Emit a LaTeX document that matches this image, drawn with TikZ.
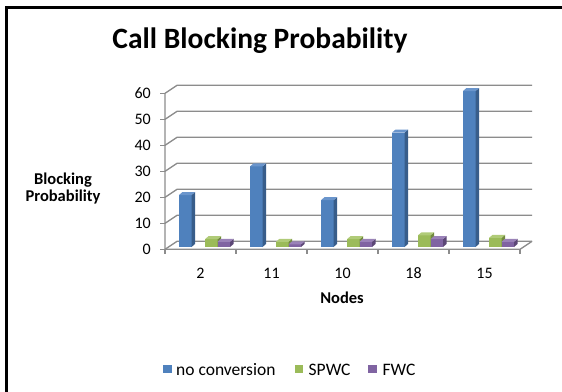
\documentclass[tikz,border=0pt]{standalone}
\usepackage{fontspec}
\setmainfont{Carlito}
\definecolor{sAfront}{HTML}{4F81BD}
\definecolor{sAside}{HTML}{385D8A}
\definecolor{sAtop}{HTML}{6A95CC}
\definecolor{sBfront}{HTML}{9BBB59}
\definecolor{sBside}{HTML}{71893F}
\definecolor{sBtop}{HTML}{B0CB78}
\definecolor{sCfront}{HTML}{8064A2}
\definecolor{sCside}{HTML}{5C4776}
\definecolor{sCtop}{HTML}{9A82B8}
\definecolor{gridgray}{HTML}{8C8C8C}
\newcommand{\mybar}[3]{%
  \pgfmathsetmacro{\barx}{#1}%
  \pgfmathsetmacro{\bartop}{247-2.6*#2}%
  \fill[#3front] (\barx,247) rectangle (\barx+12.5,\bartop);
  \fill[#3side] (\barx+12.5,247) -- (\barx+16,244) -- (\barx+16,\bartop-3) -- (\barx+12.5,\bartop) -- cycle;
  \fill[#3top] (\barx,\bartop) -- (\barx+3.5,\bartop-3) -- (\barx+16,\bartop-3) -- (\barx+12.5,\bartop) -- cycle;
}
\begin{document}
\begin{tikzpicture}[x=1pt,y=-1pt,
  grid/.style={gridgray,line width=1.3pt},
  ticklabel/.style={font=\fontsize{16}{18}\selectfont,inner sep=0pt},
  axistitle/.style={font=\bfseries\fontsize{16.5}{19}\selectfont,align=center,inner sep=0pt},
  legendtext/.style={font=\fontsize{17.5}{19}\selectfont,anchor=west,inner sep=0pt}]
\useasboundingbox (0,0) rectangle (562,391);
\fill[white] (0,0) rectangle (562,391);
% frame
\draw[line width=2.8pt] (6.5,420) -- (6.5,7.5) -- (600,7.5);
% title
\node[font=\bfseries\fontsize{29.5}{33}\selectfont,inner sep=0pt] (title) at (260,41) {Call Blocking Probability};
% gridlines and back wall
\foreach \v in {0,10,...,60} {
  \pgfmathsetmacro{\yy}{249.3-2.6*\v}
  \draw[grid] (165,\yy) -- (177,\yy-8) -- (532,\yy-8);
  \draw[grid] (160,\yy) -- (165,\yy);
  \node[ticklabel,anchor=east] at (151,\yy) {\v};
}
% front axis and floor
\draw[grid] (165,93.3) -- (165,249.3) -- (520,249.3) -- (532,241.3);
\foreach \k in {0,...,5} {
  \draw[grid] (165+71*\k,249.3) -- (165+71*\k,254);
}
% bars
\foreach \k/\va/\vb/\vc in {0/20/3/2, 1/31/2/1, 2/18/3/2, 3/44/4.5/3, 4/60/3.5/2} {
  \pgfmathsetmacro{\catx}{165+71*\k}
  \mybar{\catx+14}{\va}{sA}
  \mybar{\catx+40}{\vb}{sB}
  \mybar{\catx+52.5}{\vc}{sC}
}
% category labels
\node[ticklabel] (c1) at (200.5,273) {2};
\node[ticklabel] (c2) at (271.5,273) {11};
\node[ticklabel] (c3) at (342.5,273) {10};
\node[ticklabel] (c4) at (413.5,273) {18};
\node[ticklabel] (c5) at (484.5,273) {15};
% axis titles
\node[axistitle] (ytitle) at (63,189) {Blocking\\[-2pt]Probability};
\node[axistitle] (xtitle) at (342,298) {Nodes};
% legend
\fill[sAfront] (163.3,365) rectangle (171.7,373.3);
\node[legendtext] (l1) at (176,369.5) {no conversion};
\fill[sBfront] (295,365) rectangle (303.3,373.3);
\node[legendtext] (l2) at (308.5,369.5) {SPWC};
\fill[sCfront] (368.3,365) rectangle (376.7,373.3);
\node[legendtext] (l3) at (382.5,369.5) {FWC};
\end{tikzpicture}
\end{document}
